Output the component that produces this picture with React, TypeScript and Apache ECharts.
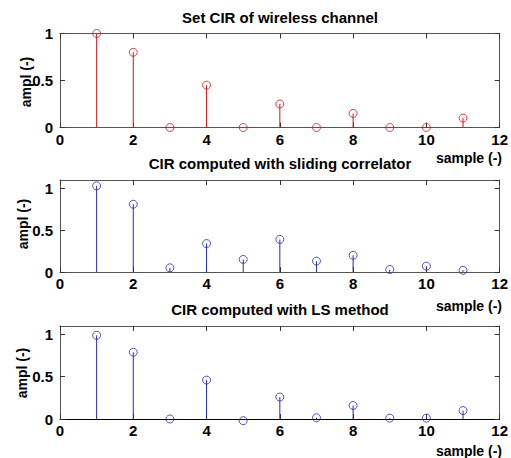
import React, { useEffect, useRef } from "react";
import * as echarts from "echarts";

const samples = [1, 2, 3, 4, 5, 6, 7, 8, 9, 10, 11];
const setCir = [1, 0.8, 0, 0.45, 0, 0.25, 0, 0.15, 0, 0, 0.1];
const slidingCir = [1.03, 0.81, 0.05, 0.34, 0.15, 0.39, 0.13, 0.2, 0.03, 0.07, 0.02];
const lsCir = [0.99, 0.79, 0.0, 0.46, -0.02, 0.26, 0.015, 0.16, 0.01, 0.01, 0.1];
const titles = [
  "Set CIR of wireless channel",
  "CIR computed with sliding correlator",
  "CIR computed with LS method",
];
const yMaxes = [1, 1.1, 1.1];
const xLabel = "sample (-)";
const yLabel = "ampl (-)";

const RED = "#d01818";
const BLUE = "#2a2aa8";
const FONT = "'Liberation Sans', Arial, sans-serif";

const grids = [
  { left: 60, top: 33.5, width: 440, height: 94 },
  { left: 60, top: 180, width: 440, height: 92 },
  { left: 60, top: 326, width: 440, height: 93 },
];
const titleY = [17, 163, 309];
const sampleY = [158, 306, 451];
const yLabelPos = [
  [26, 82],
  [23, 224],
  [22, 373],
];

export default function App() {
  const ref = useRef<HTMLDivElement>(null);
  useEffect(() => {
    if (!ref.current) return;
    const chart = echarts.init(ref.current, null, { renderer: "svg" });
    const datasets = [setCir, slidingCir, lsCir];
    const colors = [RED, BLUE, BLUE];
    const xAxes: any[] = [];
    const yAxes: any[] = [];
    const series: any[] = [];
    const graphics: any[] = [];
    grids.forEach((g, i) => {
      const lineColor = "#555";
      const bottomColor = i === 2 ? "#000" : "#555";
      const tick = { show: true, inside: true, length: 5, lineStyle: { color: "#333" } };
      xAxes.push({
        type: "value",
        gridIndex: i,
        min: 0,
        max: 12,
        interval: 2,
        position: "bottom",
        axisLine: { show: true, onZero: false, lineStyle: { color: bottomColor, width: 1 } },
        axisTick: tick,
        splitLine: { show: false },
        axisLabel: {
          color: "#000",
          fontFamily: FONT,
          fontWeight: "bold",
          fontSize: 15,
          margin: 4,
        },
      });
      xAxes.push({
        type: "value",
        gridIndex: i,
        min: 0,
        max: 12,
        interval: 2,
        position: "top",
        axisLine: { show: true, onZero: false, lineStyle: { color: lineColor, width: 1 } },
        axisTick: tick,
        splitLine: { show: false },
        axisLabel: { show: false },
      });
      yAxes.push({
        type: "value",
        gridIndex: i,
        min: 0,
        max: yMaxes[i],
        interval: 0.5,
        position: "left",
        axisLine: { show: true, onZero: false, lineStyle: { color: lineColor, width: 1 } },
        axisTick: tick,
        splitLine: { show: false },
        axisLabel: {
          color: "#000",
          fontFamily: FONT,
          fontWeight: "bold",
          fontSize: 15,
          margin: 7,
          showMaxLabel: yMaxes[i] === 1,
        },
      });
      yAxes.push({
        type: "value",
        gridIndex: i,
        min: 0,
        max: yMaxes[i],
        interval: 0.5,
        position: "right",
        axisLine: { show: true, onZero: false, lineStyle: { color: lineColor, width: 1 } },
        axisTick: tick,
        splitLine: { show: false },
        axisLabel: { show: false },
      });
      const data = samples.map((x, k) => [x, datasets[i][k]]);
      const color = colors[i];
      series.push({
        type: "bar",
        xAxisIndex: i * 2,
        yAxisIndex: i * 2,
        data,
        barWidth: 1,
        itemStyle: { color: color },
        z: 2,
      });
      series.push({
        type: "scatter",
        xAxisIndex: i * 2,
        yAxisIndex: i * 2,
        data,
        symbol: "circle",
        symbolSize: 8,
        itemStyle: { color: "rgba(255,255,255,0)", borderColor: color, borderWidth: 1 },
        clip: false,
        z: 3,
      });
      graphics.push({
        type: "text",
        x: g.left + g.width / 2,
        y: titleY[i],
        style: {
          text: titles[i],
          textAlign: "center",
          textVerticalAlign: "middle",
          font: `bold 15px ${FONT}`,
          fill: "#000",
        },
      });
      graphics.push({
        type: "text",
        x: 502,
        y: sampleY[i],
        style: {
          text: xLabel,
          textAlign: "right",
          textVerticalAlign: "middle",
          font: `bold 14px ${FONT}`,
          fill: "#000",
        },
      });
      graphics.push({
        type: "text",
        x: yLabelPos[i][0],
        y: yLabelPos[i][1],
        rotation: Math.PI / 2,
        style: {
          text: yLabel,
          textAlign: "center",
          textVerticalAlign: "middle",
          font: `bold 14px ${FONT}`,
          fill: "#000",
        },
      });
    });
    chart.setOption({
      animation: false,
      backgroundColor: "#fff",
      grid: grids,
      xAxis: xAxes,
      yAxis: yAxes,
      series,
      graphic: graphics,
    });
    return () => chart.dispose();
  }, []);
  return (
    <div
      ref={ref}
      style={{ position: "fixed", left: 0, top: 0, width: 511, height: 458, background: "#fff" }}
    />
  );
}
